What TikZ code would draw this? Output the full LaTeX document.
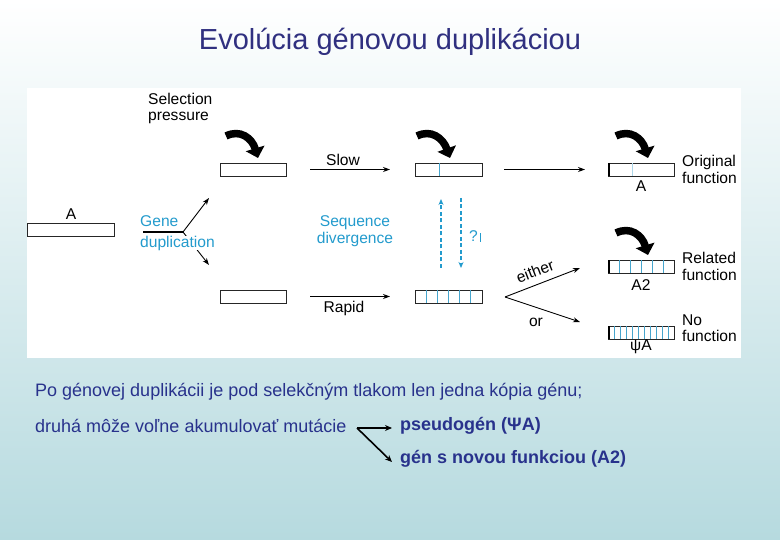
\documentclass[tikz,border=0pt]{standalone}
\usepackage{fontspec}
\setmainfont{Liberation Sans}
\usetikzlibrary{arrows.meta}
\definecolor{bgbot}{RGB}{182,218,223}
\definecolor{titleblue}{RGB}{48,48,128}
\definecolor{txtblue}{RGB}{40,50,140}
\definecolor{cyanl}{RGB}{35,155,205}
\definecolor{divc}{RGB}{70,165,205}
\begin{document}
\begin{tikzpicture}[x=1pt,y=-1pt,
  gene/.style={draw=black!85, line width=0.9pt, minimum width=66pt, minimum height=13pt, inner sep=0pt, fill=white, outer sep=0pt},
  lbl/.style={font=\fontsize{15.6}{16.5}\selectfont, text=black, inner sep=0pt},
  clbl/.style={font=\fontsize{15.6}{17}\selectfont, text=cyanl, inner sep=0pt},
  flow/.style={-{Stealth[length=7pt,width=5pt]}, line width=0.9pt},
  dflow/.style={-{Stealth[length=6pt,width=5pt]}, line width=1.2pt, cyanl, dash pattern=on 4pt off 2.5pt},
  sel/.style={line width=7.5pt, -{Triangle[length=10pt,width=19pt]}},
  divl/.style={divc, line width=0.8pt},
  btxt/.style={font=\fontsize{18}{20}\selectfont, text=txtblue, inner sep=0pt, anchor=west},
  barrow/.style={-{Stealth[length=7pt,width=6pt]}, line width=1.6pt}
]
% background
\shade[top color=white, bottom color=bgbot] (0,0) rectangle (780,540);
\useasboundingbox (0,0) rectangle (780,540);
\fill[white] (27,88) rectangle (741,358);

% title
\node[font=\fontsize{29}{32}\selectfont, text=titleblue, inner sep=0pt] (title) at (390,42) {Evolúcia génovou duplikáciou};

% genes
\node[gene, minimum width=87pt] (a) at (70.5,229.5) {};
\node[lbl] (alab) at (71,214) {A};
\node[gene] (b1) at (253,169.5) {};
\node[gene] (b2) at (253,296.5) {};
\node[gene, minimum width=67pt] (b3) at (448.5,169.5) {};
\node[gene, minimum width=67pt] (b4) at (448.5,296.5) {};
\node[gene] (b5) at (641,169.5) {};
\node[gene] (b6) at (641,267) {};
\node[gene] (b7) at (641,333) {};

% dividers
\draw[divl] ([xshift=24pt]b3.north west) -- ([xshift=24pt]b3.south west);
\foreach \i in {1,...,5}
  \draw[divl] ([xshift=\i*11.17pt]b4.north west) -- ([xshift=\i*11.17pt]b4.south west);
\draw[divl, divc!45] ([xshift=24pt]b5.north west) -- ([xshift=24pt]b5.south west);
\foreach \i in {1,...,5}
  \draw[divl] ([xshift=\i*11pt]b6.north west) -- ([xshift=\i*11pt]b6.south west);
\foreach \i in {1,...,10}
  \draw[divl] ([xshift=\i*6pt]b7.north west) -- ([xshift=\i*6pt]b7.south west);
\foreach \b in {b5,b6,b7}
  \draw[line width=2.2pt] ([xshift=0.6pt]\b.north west) -- ([xshift=0.6pt]\b.south west);

% labels
\node[lbl, align=left, anchor=west] (selp) at (148,108.5) {Selection\\pressure};
\node[clbl, anchor=west, fill=white] (gene) at (140,221) {Gene};
\node[lbl] (slow) at (343,160) {Slow};
\node[lbl] (rapid) at (344,308) {Rapid};
\node[clbl, align=center] (seqd) at (355,231) {Sequence\\divergence};
\node[clbl] (q) at (475,236) {?\,\rule[-0.5pt]{0.5pt}{9pt}};
\node[lbl] (a5) at (641,186) {A};
\node[lbl] (a6) at (641,285) {A2};
\node[lbl] (a7) at (641,347) {ψA};
\node[lbl, align=left, anchor=west] (of) at (682,169.5) {Original\\function};
\node[lbl, align=left, anchor=west] (rf) at (682,266.5) {Related\\function};
\node[lbl, align=left, anchor=west] (nf) at (682,328) {No\\function};
\node[lbl, rotate=21] (either) at (535,271) {either};
\node[lbl] (or) at (536,322) {or};

% gene duplication connectors
\coordinate (gs) at (143,232);
\coordinate (gj) at (183,232);
\coordinate (gu) at (209,198);
\coordinate (gd) at (209,265);
\draw[line width=2pt] (gs) -- (gj);
\draw[flow] (gj) -- (gu);
\draw[flow] (gj) -- (gd);
\node[clbl, anchor=west, fill=white] (dup) at (140,243) {duplication};

% slow / rapid
\draw[flow, shorten <=24pt, shorten >=25pt] (b1.east) -- (b3.west);
\draw[flow, shorten <=24pt, shorten >=25pt] (b2.east) -- (b4.west);
\draw[flow, shorten <=22pt, shorten >=23pt] (b3.east) -- (b5.west);

% dashed
\coordinate (du1) at (441,268);
\coordinate (du2) at (441,199);
\coordinate (dd1) at (461,198);
\coordinate (dd2) at (461,268);
\draw[dflow] (du1) -- (du2);
\draw[dflow] (dd1) -- (dd2);

% either / or
\coordinate (ej) at (505,297);
\coordinate (et) at (580,268);
\coordinate (ot) at (580,322);
\draw[flow] (ej) -- (et);
\draw[flow] (ej) -- (ot);

% selection arrows
\draw[sel] (226,136) .. controls (240,129) and (252,138) .. (258,158);
\draw[sel] (417,136) .. controls (431,129) and (443,138) .. (450,158);
\draw[sel] (616,136) .. controls (630,129) and (642,138) .. (648,158);
\draw[sel] (616,233) .. controls (630,226) and (642,235) .. (648,255);

% bottom text
\node[btxt] (l1) at (35,392) {Po génovej duplikácii je pod selekčným tlakom len jedna kópia génu;};
\node[btxt] (l2) at (35,426) {druhá môže voľne akumulovať mutácie};
\node[btxt, font=\fontsize{18}{20}\selectfont\bfseries] (ps) at (400,426) {pseudogén (ΨA)};
\node[btxt, font=\fontsize{18}{20}\selectfont\bfseries] (ng) at (400,459) {gén s novou funkciou (A2)};
\coordinate (bj) at (357,428);
\draw[barrow] (bj) -- ([xshift=-8pt,yshift=-2pt]ps.west);
\draw[barrow] (bj) -- ([xshift=-8pt,yshift=-3pt]ng.west);
\end{tikzpicture}
\end{document}
